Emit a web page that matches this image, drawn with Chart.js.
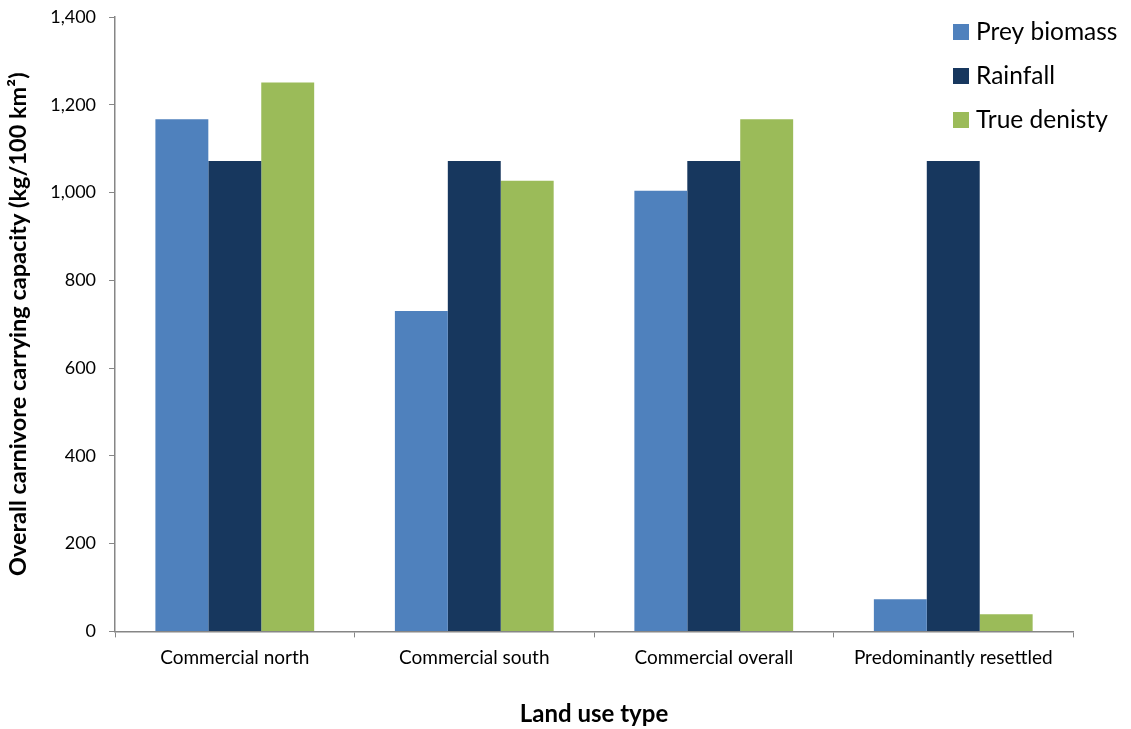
<!DOCTYPE html>
<html>
<head>
<meta charset="utf-8">
<script src="https://cdn.jsdelivr.net/npm/chart.js@4/dist/chart.umd.min.js"></script>
<style>
  html, body { margin: 0; padding: 0; background: #fff; }
  #wrap { width: 1131px; height: 729px; }
</style>
</head>
<body>
<div id="wrap"><canvas id="chart" width="1131" height="729"></canvas></div>
<script>
const landUse = ['Commercial north', 'Commercial south', 'Commercial overall', 'Predominantly resettled'];
const preyBiomass = [1167, 730, 1004, 73];
const rainfall = [1072, 1072, 1072, 1072];
const trueDensity = [1251, 1027, 1167, 39];
const seriesNames = ['Prey biomass', 'Rainfall', 'True denisty'];

const FONT = 'Lato, "Open Sans", sans-serif';
const AXIS = '#868686';

// legend drawn inside the plot area, top right
const sideLegend = {
  id: 'sideLegend',
  afterDraw(chart) {
    const ctx = chart.ctx;
    ctx.save();
    ctx.font = '24.5px ' + FONT;
    ctx.textBaseline = 'middle';
    chart.data.datasets.forEach((ds, i) => {
      const y = 32 + i * 44;
      ctx.fillStyle = ds.backgroundColor;
      ctx.fillRect(953, y - 8, 16, 16);
      ctx.fillStyle = '#000';
      ctx.fillText(ds.label, 976, y);
    });
    ctx.restore();
  }
};

new Chart(document.getElementById('chart'), {
  type: 'bar',
  data: {
    labels: landUse,
    datasets: [
      { label: seriesNames[0], data: preyBiomass, backgroundColor: '#4F81BD' },
      { label: seriesNames[1], data: rainfall, backgroundColor: '#17375E' },
      { label: seriesNames[2], data: trueDensity, backgroundColor: '#9BBB59' }
    ]
  },
  options: {
    responsive: false,
    animation: false,
    layout: { padding: { top: 0, right: 58, left: 0, bottom: 0 } },
    datasets: { bar: { barPercentage: 1, categoryPercentage: 0.663, borderWidth: 0 } },
    plugins: {
      legend: { display: false },
      tooltip: { enabled: false }
    },
    scales: {
      x: {
        grid: { display: true, drawOnChartArea: false, color: AXIS, tickLength: 6, offset: true },
        border: { color: AXIS, width: 1.5 },
        ticks: { color: '#000', font: { family: FONT, size: 19 }, padding: 9, maxRotation: 0 },
        title: { display: true, text: 'Land use type', color: '#000', font: { family: FONT, size: 24, weight: 'bold' }, padding: { top: 22, bottom: 0 } }
      },
      y: {
        min: 0,
        max: 1400,
        grid: { display: true, drawOnChartArea: false, color: AXIS, tickLength: 6 },
        border: { color: AXIS, width: 1.5 },
        ticks: {
          stepSize: 200,
          color: '#000',
          font: { family: FONT, size: 18, lineHeight: 0.45 },
          padding: 13,
          callback: v => v.toLocaleString('en-US')
        },
        title: { display: true, text: 'Overall carnivore carrying capacity (kg/100 km²)', color: '#000', font: { family: FONT, size: 23.5, weight: 'bold' }, padding: { top: 4, bottom: 5 } }
      }
    }
  },
  plugins: [sideLegend]
});
</script>
</body>
</html>
